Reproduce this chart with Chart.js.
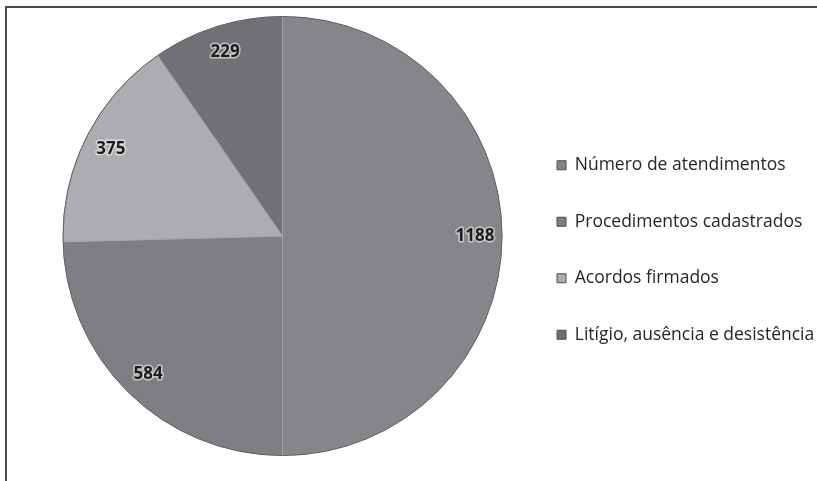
<!DOCTYPE html>
<html>
<head>
<meta charset="utf-8">
<script src="https://cdn.jsdelivr.net/npm/chart.js@4/dist/chart.umd.min.js"></script>
<style>
	html, body {
		margin: 0;
		padding: 0;
		background: #fff;
		overflow: hidden;
	}
	#wrap {
		position: relative;
		width: 817px;
		height: 481px;
	}
	#frame {
		position: absolute;
		left: 5px;
		top: 6px;
		width: 900px;
		height: 600px;
		border-top: 2px solid #4a4a4a;
		border-left: 2px solid #4a4a4a;
		pointer-events: none;
	}
	canvas {
		position: absolute;
		left: 0;
		top: 0;
	}
</style>
</head>
<body>
<div id="wrap">
	<canvas id="chart" width="817" height="481"></canvas>
	<div id="frame"></div>
</div>
<script>
"use strict";

const categories = [
	"Número de atendimentos",
	"Procedimentos cadastrados",
	"Acordos firmados",
	"Litígio, ausência e desistência",
];
const values = [1188, 584, 375, 229];
const sliceColors = ["#86868a", "#7f7f83", "#adadb1", "#717175"];

// draws the numbers inside each slice, near the outer edge
const sliceLabels = {
	id: "sliceLabels",
	afterDatasetsDraw(chart) {
		const ctx = chart.ctx;
		const meta = chart.getDatasetMeta(0);
		ctx.save();
		ctx.font = "bold 17px 'Open Sans'";
		ctx.textAlign = "center";
		ctx.textBaseline = "middle";
		ctx.lineJoin = "round";
		meta.data.forEach((arc, i) => {
			const mid = (arc.startAngle + arc.endAngle) / 2;
			const r = arc.outerRadius * 0.877;
			const x = arc.x + Math.cos(mid) * r;
			const y = arc.y + Math.sin(mid) * r;
			const text = String(chart.data.datasets[0].data[i]);
			ctx.strokeStyle = "rgba(255,255,255,0.55)";
			ctx.lineWidth = 3;
			ctx.strokeText(text, x, y);
			ctx.fillStyle = "#1c1c1c";
			ctx.fillText(text, x, y);
		});
		ctx.restore();
	},
};

// darker rim round the pie
const pieRim = {
	id: "pieRim",
	afterDatasetsDraw(chart) {
		const arc = chart.getDatasetMeta(0).data[0];
		if (!arc) {
			return;
		}
		const ctx = chart.ctx;
		ctx.save();
		ctx.beginPath();
		ctx.arc(arc.x, arc.y, arc.outerRadius, 0, Math.PI * 2);
		ctx.strokeStyle = "#5e5e62";
		ctx.lineWidth = 1;
		ctx.stroke();
		ctx.restore();
	},
};

const chart = new Chart(
	document.getElementById("chart"),
	{
		type: "pie",
		data: {
			labels: categories,
			datasets: [
				{
					data: values,
					backgroundColor: sliceColors,
					borderColor: "#a4a4a8",
					borderWidth: 1,
				},
			],
		},
		options: {
			responsive: false,
			animation: false,
			layout: {
				padding: { left: 47, right: 0, top: 16, bottom: 25 },
			},
			plugins: {
				tooltip: { enabled: false },
				legend: {
					position: "right",
					maxWidth: 299,
					// empty title only pushes the items down a little
					title: {
						display: true,
						text: "",
						font: { size: 10 },
						padding: 8,
					},
					labels: {
						boxWidth: 9,
						boxHeight: 9,
						padding: 39,
						color: "#262626",
						font: { family: "'Open Sans'", size: 17.5 },
						generateLabels(chart) {
							const items = Chart.overrides.pie.plugins.legend.labels.generateLabels(chart);
							items.forEach(item => {
								item.strokeStyle = "#4e4e4e";
								item.lineWidth = 1;
							});
							return items;
						},
					},
				},
			},
		},
		plugins: [pieRim, sliceLabels],
	}
);
</script>
</body>
</html>
